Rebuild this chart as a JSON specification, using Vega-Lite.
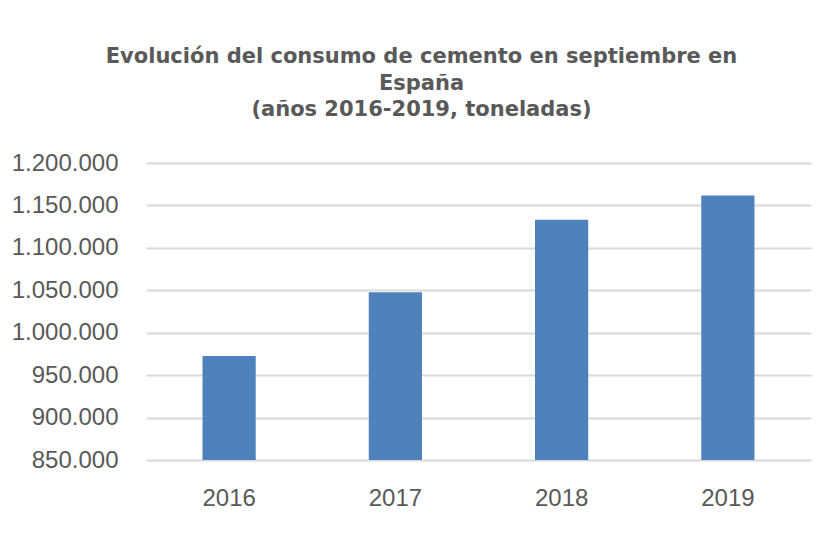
{
  "$schema": "https://vega.github.io/schema/vega-lite/v6.json",
  "autosize": {"type": "none"},
  "width": 665,
  "height": 297,
  "padding": {"left": 146, "top": 163, "right": 20, "bottom": 90},
  "background": "white",
  "config": {
    "locale": {"number": {"decimal": ",", "thousands": ".", "grouping": [3], "currency": ["", " €"]}},
    "view": {"stroke": null},
    "font": "Liberation Sans"
  },
  "title": {
    "text": ["Evolución del consumo de cemento en septiembre en", "España", "(años 2016-2019, toneladas)"],
    "font": "DejaVu Sans",
    "fontSize": 21,
    "fontWeight": "bold",
    "color": "#595959",
    "lineHeight": 26.5,
    "anchor": "middle",
    "frame": "group",
    "dx": -57,
    "offset": 31
  },
  "data": {
    "values": [
      {"anio": "2016", "toneladas": 972600},
      {"anio": "2017", "toneladas": 1047800},
      {"anio": "2018", "toneladas": 1133000},
      {"anio": "2019", "toneladas": 1161700}
    ]
  },
  "mark": {"type": "bar", "color": "#4f81bd", "clip": true},
  "encoding": {
    "x": {
      "field": "anio",
      "type": "nominal",
      "scale": {"paddingInner": 0.68, "paddingOuter": 0.34},
      "axis": {
        "title": null,
        "labelAngle": 0,
        "labelFontSize": 24,
        "labelColor": "#595959",
        "labelPadding": 26,
        "ticks": false,
        "domain": false,
        "grid": false
      }
    },
    "y": {
      "field": "toneladas",
      "type": "quantitative",
      "scale": {"domain": [850000, 1200000], "zero": false, "nice": false},
      "axis": {
        "title": null,
        "values": [850000, 900000, 950000, 1000000, 1050000, 1100000, 1150000, 1200000],
        "format": ",d",
        "labelFontSize": 24,
        "labelColor": "#595959",
        "labelPadding": 28,
        "ticks": false,
        "domain": false,
        "grid": true,
        "gridColor": "#d9d9d9",
        "gridWidth": 2
      }
    }
  }
}
